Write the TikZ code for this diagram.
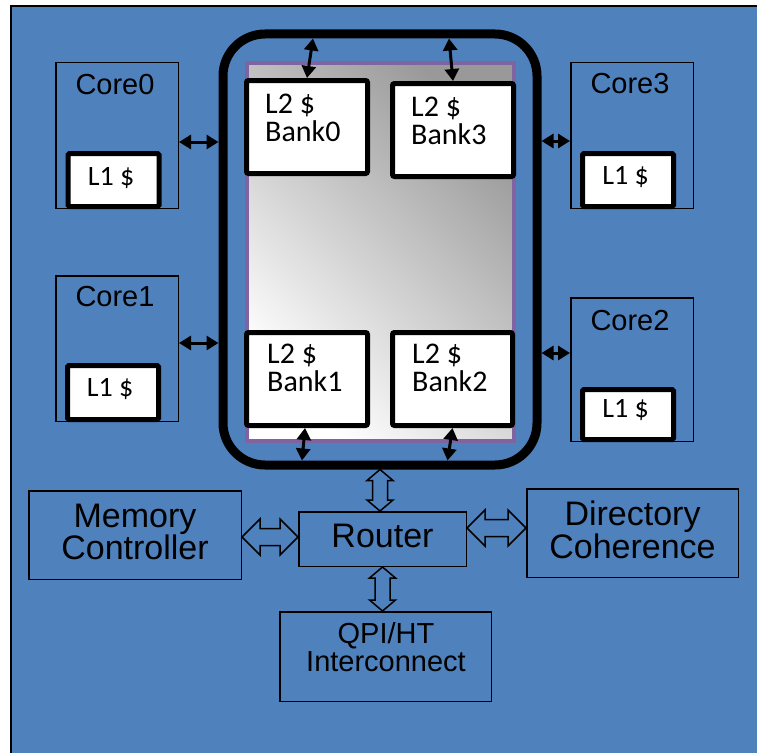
\documentclass[tikz,border=0pt]{standalone}
\usepackage{fontspec}
\setmainfont{Liberation Sans}
\newfontfamily\calibfont{Carlito}
\usetikzlibrary{arrows.meta,calc}
\definecolor{bgblue}{RGB}{79,129,189}
\definecolor{l2purple}{RGB}{128,100,162}

\begin{document}
\begin{tikzpicture}[x=1pt,y=-1pt,
  corebox/.style={draw, line width=1.5pt, minimum width=122.5pt, minimum height=145.5pt, inner sep=0pt},
  lonebox/.style={draw, fill=white, line width=5pt, minimum width=91pt, minimum height=53pt, inner sep=0pt, rounded corners=1.5pt},
  bankbox/.style={draw, fill=white, line width=5pt, minimum width=121pt, minimum height=93pt, inner sep=0pt, rounded corners=2pt},
  unitbox/.style={draw, line width=1.5pt, inner sep=0pt},
  corelbl/.style={inner sep=0pt, anchor=base, font=\fontsize{29}{29}\selectfont},
  bigl/.style={inner sep=0pt, anchor=base, font=\fontsize{34}{34}\selectfont},
  qpil/.style={inner sep=0pt, anchor=base, font=\fontsize{29}{29}\selectfont},
  lonel/.style={inner sep=0pt, anchor=base, font=\calibfont\fontsize{28}{28}\selectfont},
  bankl/.style={inner sep=0pt, anchor=base west, font=\calibfont\fontsize{30}{30}\selectfont},
  sarrow/.style={line width=3pt, {Triangle[length=12pt,width=14pt]}-{Triangle[length=12pt,width=14pt]}},
  blockarrow/.style={draw, line width=1.5pt, fill=bgblue, line join=miter},
  vblock/.style={blockarrow, to path={let \p1=(\tikztostart), \p2=(\tikztotarget),
      \n1={ifthenelse(\y2>\y1,11,-11)} in
      (\x1,\y1) -- (\x1+13pt,\y1+\n1) -- (\x1+7.5pt,\y1+\n1) -- (\x1+7.5pt,\y2-\n1)
      -- (\x1+13pt,\y2-\n1) -- (\x1,\y2) -- (\x1-13pt,\y2-\n1) -- (\x1-7.5pt,\y2-\n1)
      -- (\x1-7.5pt,\y1+\n1) -- (\x1-13pt,\y1+\n1) -- cycle}},
  hblock/.style={blockarrow, to path={let \p1=(\tikztostart), \p2=(\tikztotarget),
      \n1={ifthenelse(\x2>\x1,18,-18)} in
      (\x1,\y1) -- (\x1+\n1,\y1+18pt) -- (\x1+\n1,\y1+8.5pt) -- (\x2-\n1,\y1+8.5pt)
      -- (\x2-\n1,\y1+18pt) -- (\x2,\y1) -- (\x2-\n1,\y1-18pt) -- (\x2-\n1,\y1-8.5pt)
      -- (\x1+\n1,\y1-8.5pt) -- (\x1+\n1,\y1-18pt) -- cycle}}
]
\useasboundingbox (0,0) rectangle (757,752);
\clip (0,0) rectangle (757,752);
\fill[white] (0,0) rectangle (757,752);
\draw[fill=bgblue, line width=2pt] (11,6) rectangle (800,800);

% shared L2 region and its ring bus
\node[draw=l2purple, line width=4pt, minimum width=267pt, minimum height=377.5pt, inner sep=0pt,
      bottom color=white, top color=black!40, shading angle=-45] (l2area) at (380.5,251.75) {};
\node[draw, line width=9pt, rounded corners=42pt, minimum width=314pt, minimum height=431pt, inner sep=0pt] (ring) at (380,249.5) {};

% L2 banks
\node[bankbox] (b0) at (307,127) {};
\node[bankbox] (b3) at (453,130) {};
\node[bankbox] (b1) at (307,379) {};
\node[bankbox, minimum width=120pt] (b2) at (452.5,379) {};
\node[bankl] (b0a) at (265,113) {L2 \$};
\node[bankl] (b0b) at (265,141) {Bank0};
\node[bankl] (b3a) at (411,116) {L2 \$};
\node[bankl] (b3b) at (411,144) {Bank3};
\node[bankl] (b1a) at (267,363) {L2 \$};
\node[bankl] (b1b) at (267,391) {Bank1};
\node[bankl] (b2a) at (412,363) {L2 \$};
\node[bankl] (b2b) at (412,391) {Bank2};

% cores with their L1 caches
\node[corebox] (c0) at (117,135.5) {};
\node[corebox] (c1) at (117,348.5) {};
\node[corebox] (c3) at (632,135.5) {};
\node[corebox, minimum height=143.5pt] (c2) at (632,369.5) {};
\node[lonebox] (l0) at (113.5,180) {};
\node[lonebox, minimum height=54pt] (l1) at (113,392.5) {};
\node[lonebox] (l3) at (628,180) {};
\node[lonebox, minimum height=50pt] (l2) at (628,414.5) {};
\node[corelbl] (c0t) at (115,94) {Core0};
\node[corelbl] (c1t) at (115,306.5) {Core1};
\node[corelbl] (c3t) at (630,93.5) {Core3};
\node[corelbl] (c2t) at (630,330) {Core2};
\node[lonel] (l0t) at (111,185) {L1 \$};
\node[lonel] (l1t) at (110,396) {L1 \$};
\node[lonel] (l3t) at (625.5,184) {L1 \$};
\node[lonel] (l2t) at (625.5,417) {L1 \$};

% uncore blocks
\node[unitbox, minimum width=212.5pt, minimum height=88.5pt] (mc) at (135,535) {};
\node[unitbox, minimum width=211.5pt, minimum height=88.5pt] (dc) at (632.5,533) {};
\node[unitbox, minimum width=167.5pt, minimum height=54.5pt] (router) at (382.5,539) {};
\node[unitbox, minimum width=211.5pt, minimum height=89.5pt] (qpi) at (385.5,656.5) {};
\node[bigl] (mct1) at (135,527) {Memory};
\node[bigl] (mct2) at (135,559) {Controller};
\node[bigl] (dct1) at (632.5,525) {Directory};
\node[bigl] (dct2) at (632.5,558) {Coherence};
\node[bigl] (rt) at (382.5,547) {Router};
\node[qpil] (qt1) at (386,643) {QPI/HT};
\node[qpil] (qt2) at (386,671) {Interconnect};

% core <-> ring links
\draw[sarrow] ([yshift=-6.5pt]c0.east) -- ([yshift=-6.5pt]c0.east -| ring.west);
\draw[sarrow] ([yshift=5.5pt]c1.east) -- ([yshift=5.5pt]c1.east -| ring.west);
\draw[sarrow] ([yshift=-5.5pt]c3.west) -- ([yshift=-5.5pt]c3.west -| ring.east);
\draw[sarrow] ([yshift=16.5pt]c2.west) -- ([yshift=16.5pt]c2.west -| ring.east);

% bank <-> ring links
\draw[sarrow] (b0.north) -- ([xshift=6pt,yshift=-9pt]b0.north |- ring.north);
\draw[sarrow] (b3.north) -- ([xshift=-4pt,yshift=-9pt]b3.north |- ring.north);
\draw[sarrow] ([xshift=-2pt]b1.south) -- ([xshift=-5pt,yshift=9pt]b1.south |- ring.south);
\draw[sarrow] (b2.south) -- ([xshift=-5pt,yshift=9pt]b2.south |- ring.south);

% wide links around the router
\draw[vblock] (ring.south) to (router.north);
\draw[vblock] (router.south) to (qpi.north);
\draw[hblock] ([yshift=-2pt]mc.east) to (router.west);
\draw[hblock] ([yshift=11pt]router.east) to (dc.west);
\end{tikzpicture}
\end{document}
